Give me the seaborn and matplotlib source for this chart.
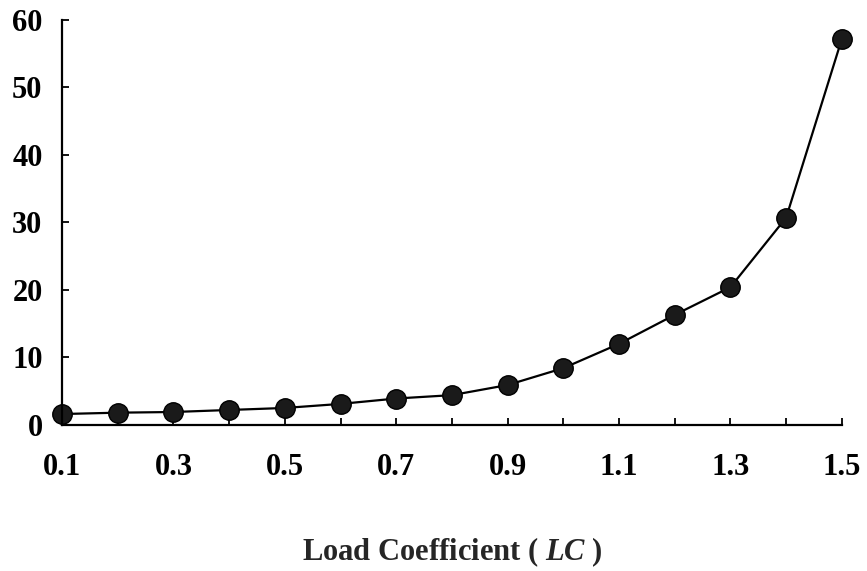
import numpy as np
import pandas as pd
import seaborn as sns
import matplotlib.pyplot as plt
from matplotlib.ticker import MultipleLocator

#%% data
loadCoef = [0.1, 0.2, 0.3, 0.4, 0.5, 0.6, 0.7, 0.8, 0.9, 1.0, 1.1, 1.2, 1.3, 1.4, 1.5]
yVal = [1.6, 1.8, 1.9, 2.2, 2.5, 3.1, 3.9, 4.4, 5.9, 8.4, 12.0, 16.3, 20.4, 30.7, 57.2]

dfPlot = pd.DataFrame({'LC': loadCoef, 'val': yVal})

#%% plot settings
sns.set_style('ticks')
plt.rcParams['font.family'] = ['Liberation Serif', 'DejaVu Serif']
plt.rcParams['font.weight'] = 'bold'
plt.rcParams['mathtext.fontset'] = 'custom'
plt.rcParams['mathtext.rm'] = 'Liberation Serif:bold'
plt.rcParams['mathtext.it'] = 'Liberation Serif:italic:bold'

fig = plt.figure(figsize=(8.67, 5.71), dpi=100)
ax = fig.add_axes([0.0715, 0.256, 0.8995, 0.709])

sns.lineplot(data=dfPlot, x='LC', y='val', ax=ax, color='black', linewidth=1.6,
             marker='o', markersize=14, markerfacecolor='#1a1a1a',
             markeredgecolor='black', markeredgewidth=1.0, clip_on=False)

ax.set_xlim(0.1, 1.5)
ax.set_ylim(0, 60)
ax.xaxis.set_minor_locator(MultipleLocator(0.1))
ax.yaxis.set_major_locator(MultipleLocator(10))
ax.set_xticks(loadCoef[::2])
ax.set_xticklabels(['%.1f' % v for v in loadCoef[::2]])

ax.tick_params(axis='both', which='both', direction='in', length=5, width=1.3,
               labelsize=22, colors='black')
ax.tick_params(axis='x', pad=20)
ax.tick_params(axis='y', pad=14)
for lab in ax.get_xticklabels() + ax.get_yticklabels():
    lab.set_fontweight('bold')

sns.despine(ax=ax)
for sp in ['left', 'bottom']:
    ax.spines[sp].set_linewidth(1.6)
    ax.spines[sp].set_color('black')

ax.set_ylabel('')
ax.set_xlabel('Load Coefficient ( $\\mathit{LC}$ )', fontsize=22, fontweight='bold', labelpad=39)

fig.savefig('out.png', dpi=100)
